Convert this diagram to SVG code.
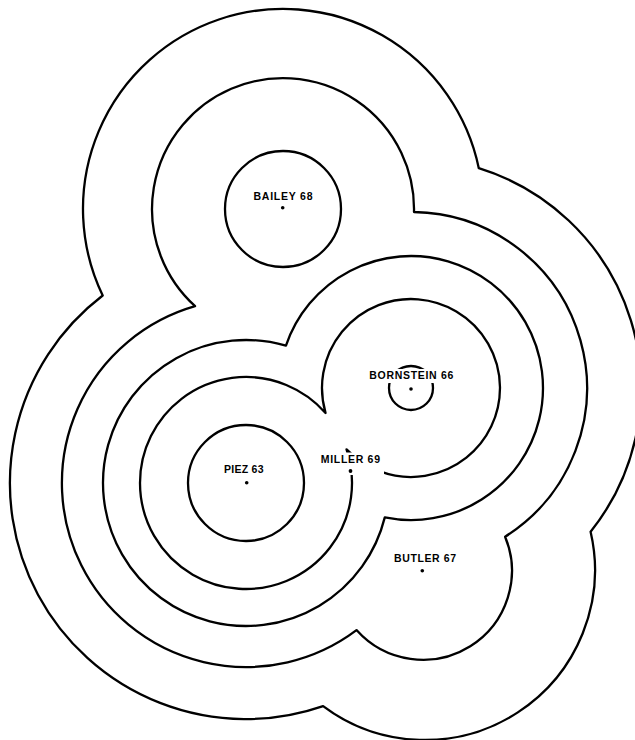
<svg xmlns="http://www.w3.org/2000/svg" width="635" height="740" viewBox="0 0 635 740">
<style>
.c{fill:none;stroke:#000;stroke-width:2.3;stroke-linejoin:round}
.t{font-family:"Liberation Sans",Arial,sans-serif;font-weight:bold;font-size:10.5px;fill:#000}
.k{fill:#fff;stroke:none}
.d{fill:#000}
</style>
<rect width="635" height="740" fill="#fff"/>
<g id="contours">
<circle class="c" cx="283" cy="209" r="58"/>
<circle class="c" cx="246" cy="483" r="58"/>
<circle class="c" cx="411" cy="388" r="22"/>
<path class="c" d="M325.56,412.95 A89,89 0 1 1 346.52,449.35 A106,106 0 1 1 325.56,412.95 Z"/>
<path class="c" d="M285.95,345.7 A132,132 0 1 1 384.8,517.4 A143,143 0 1 1 285.95,345.7 Z"/>
<path class="c" d="M195.1,306.2 A131,131 0 1 1 414.0,212.0 A176,176 0 0 1 505.1,536.7 A89,89 0 0 1 356.5,630.1 A184,184 0 1 1 195.1,306.2 Z"/>
<path class="c" d="M102.7,295.5 A200,200 0 1 1 478.8,168.2 A230,230 0 0 1 590.6,531.7 A170,170 0 0 1 323.1,706.1 A236,236 0 0 1 102.7,295.5 Z"/>
</g>
<g id="bailey">
<text class="t" x="253.5" y="199.5" textLength="59" lengthAdjust="spacing">BAILEY 68</text>
<circle class="d" cx="282.7" cy="207.7" r="1.8"/>
</g>
<g id="bornstein">
<rect class="k" x="366" y="369" width="91" height="14"/>
<text class="t" x="369.3" y="378.5" textLength="84" lengthAdjust="spacing">BORNSTEIN 66</text>
<circle class="d" cx="411" cy="389" r="1.8"/>
</g>
<g id="piez">
<text class="t" x="224" y="473.3" textLength="39.5" lengthAdjust="spacing">PIEZ 63</text>
<circle class="d" cx="246.7" cy="482.7" r="1.8"/>
</g>
<g id="miller">
<rect class="k" x="318" y="452.5" width="66" height="22.5"/>
<text class="t" x="320.7" y="462.7" textLength="59.3" lengthAdjust="spacing">MILLER 69</text>
<circle class="d" cx="350.5" cy="471" r="1.9"/>
</g>
<g id="butler">
<text class="t" x="394" y="562.3" textLength="62" lengthAdjust="spacing">BUTLER 67</text>
<circle class="d" cx="422.3" cy="570.7" r="1.8"/>
</g>
</svg>
